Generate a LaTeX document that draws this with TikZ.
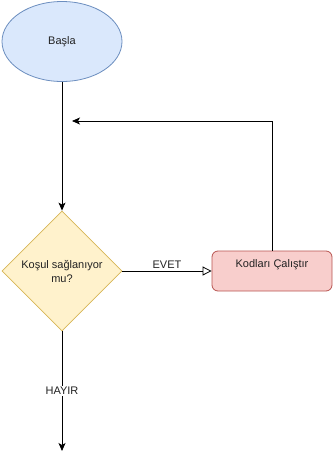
\documentclass[tikz,border=0pt]{standalone}
\usepackage{fontspec}
\setmainfont{Liberation Sans}
\usetikzlibrary{shapes.geometric,arrows.meta}
\definecolor{startfill}{HTML}{DAE8FC}
\definecolor{startline}{HTML}{6C8EBF}
\definecolor{condfill}{HTML}{FFF2CC}
\definecolor{condline}{HTML}{D6B656}
\definecolor{procfill}{HTML}{F8CECC}
\definecolor{procline}{HTML}{B85450}
\definecolor{txt}{HTML}{222222}
\tikzset{
  every node/.style={font=\fontsize{11}{14}\selectfont, text=txt},
  startbox/.style={ellipse, draw=startline, fill=startfill, line width=0.8pt,
    minimum width=120pt, minimum height=80pt, inner sep=0pt},
  condbox/.style={diamond, draw=condline, fill=condfill, line width=0.8pt,
    minimum width=120pt, minimum height=120pt, inner sep=0pt, align=center},
  procbox/.style={rectangle, rounded corners=6pt, draw=procline, fill=procfill,
    line width=0.8pt, minimum width=120pt, minimum height=40pt, inner sep=0pt},
  flow/.style={draw=black, line width=0.8pt, -{Stealth[length=8pt,width=7pt,inset=2pt]}},
  yesflow/.style={draw=black, line width=0.8pt, -{Triangle[open,length=9pt,width=9pt]}},
  lbl/.style={font=\fontsize{11}{13}\selectfont, fill=white, inner sep=1pt}
}
\begin{document}
\begin{tikzpicture}[x=1pt,y=-1pt]
  \useasboundingbox (0,0) rectangle (333,461);
  \node[startbox] (start) at (62,41.5) {Başla};
  \node[condbox] (cond) at (62,271) {Koşul sağlanıyor\\mu?};
  \node[procbox] (proc) at (272,271) {};
  \node at (272,265) {Kodları Çalıştır};
  \coordinate (corner) at (272,121);
  \coordinate (back) at (72,121);
  \coordinate (exit) at (62,451);
  \draw[flow] (start.south) -- (cond.north);
  \draw[yesflow] (cond.east) -- node[lbl, above=1pt, fill=none] {EVET} (proc.west);
  \draw[flow] (proc.north) -- (corner) -- (back);
  \draw[flow] (cond.south) -- node[lbl, pos=0.5] {HAYIR} (exit);
\end{tikzpicture}
\end{document}
